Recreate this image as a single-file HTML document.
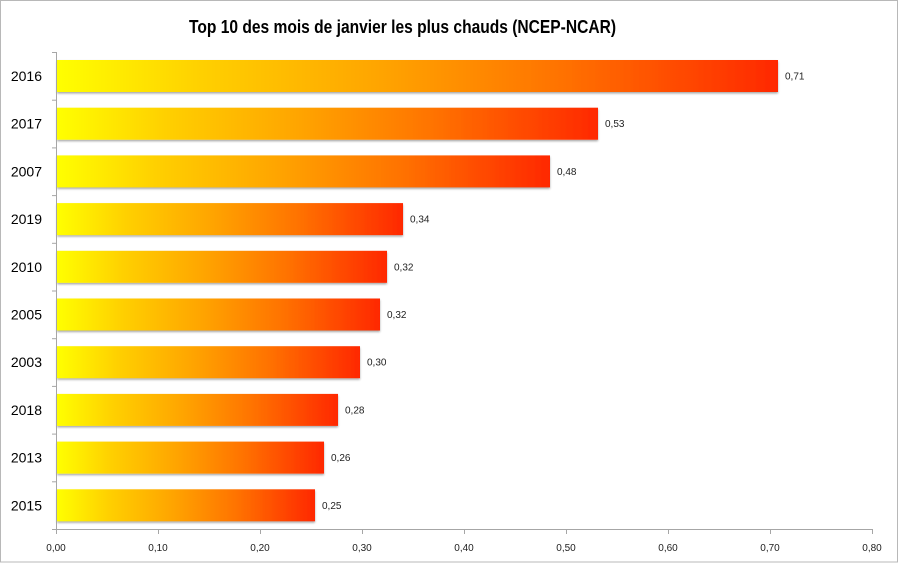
<!DOCTYPE html>
<html><head><meta charset="utf-8"><style>
html,body{margin:0;padding:0;background:#fff;}
svg{display:block;}
text{font-family:"Liberation Sans",Arial,sans-serif;}
</style></head><body>
<svg width="899" height="563" viewBox="0 0 899 563" xmlns="http://www.w3.org/2000/svg">
<defs>
<linearGradient id="g" x1="0" y1="0" x2="1" y2="0">
<stop offset="0" stop-color="#ffff00"/>
<stop offset="0.2" stop-color="#ffd000"/>
<stop offset="0.45" stop-color="#ffa400"/>
<stop offset="0.7" stop-color="#ff7200"/>
<stop offset="1" stop-color="#ff2800"/>
</linearGradient>
<filter id="sh" x="-5%" y="-20%" width="110%" height="150%">
<feGaussianBlur in="SourceAlpha" stdDeviation="1"/>
<feOffset dx="0" dy="1.5" result="b"/>
<feComponentTransfer><feFuncA type="linear" slope="0.35"/></feComponentTransfer>
<feMerge><feMergeNode/><feMergeNode in="SourceGraphic"/></feMerge>
</filter>
</defs>
<rect x="0.5" y="0.5" width="897" height="561.5" fill="#fff" stroke="#b8b8b8" stroke-width="1"/>
<text x="402.5" y="33" text-anchor="middle" font-size="18" font-weight="bold" fill="#000" textLength="427" lengthAdjust="spacingAndGlyphs">Top 10 des mois de janvier les plus chauds (NCEP-NCAR)</text>

<g filter="url(#sh)">
<rect x="57" y="60" width="721" height="32" fill="url(#g)"/>
<rect x="57" y="107.7" width="541" height="32" fill="url(#g)"/>
<rect x="57" y="155.4" width="493" height="32" fill="url(#g)"/>
<rect x="57" y="203.1" width="346" height="32" fill="url(#g)"/>
<rect x="57" y="250.8" width="330" height="32" fill="url(#g)"/>
<rect x="57" y="298.5" width="323" height="32" fill="url(#g)"/>
<rect x="57" y="346.2" width="303" height="32" fill="url(#g)"/>
<rect x="57" y="393.9" width="281" height="32" fill="url(#g)"/>
<rect x="57" y="441.6" width="267" height="32" fill="url(#g)"/>
<rect x="57" y="489.3" width="258" height="32" fill="url(#g)"/>
</g>

<g stroke="#a6a6a6" stroke-width="1" fill="none">
<line x1="56.5" y1="52" x2="56.5" y2="529.5"/>
<line x1="56" y1="529.5" x2="872.5" y2="529.5"/>
<line x1="52" y1="52.5" x2="56" y2="52.5"/>
<line x1="52" y1="100.2" x2="56" y2="100.2"/>
<line x1="52" y1="147.9" x2="56" y2="147.9"/>
<line x1="52" y1="195.6" x2="56" y2="195.6"/>
<line x1="52" y1="243.3" x2="56" y2="243.3"/>
<line x1="52" y1="291" x2="56" y2="291"/>
<line x1="52" y1="338.7" x2="56" y2="338.7"/>
<line x1="52" y1="386.4" x2="56" y2="386.4"/>
<line x1="52" y1="434.1" x2="56" y2="434.1"/>
<line x1="52" y1="481.8" x2="56" y2="481.8"/>
<line x1="52" y1="529.5" x2="56" y2="529.5"/>
<line x1="56.5" y1="529" x2="56.5" y2="534"/>
<line x1="158.5" y1="529" x2="158.5" y2="534"/>
<line x1="260.5" y1="529" x2="260.5" y2="534"/>
<line x1="362.5" y1="529" x2="362.5" y2="534"/>
<line x1="464.5" y1="529" x2="464.5" y2="534"/>
<line x1="566.5" y1="529" x2="566.5" y2="534"/>
<line x1="668.5" y1="529" x2="668.5" y2="534"/>
<line x1="770.5" y1="529" x2="770.5" y2="534"/>
<line x1="872.5" y1="529" x2="872.5" y2="534"/>
</g>

<g font-size="14" fill="#000" text-anchor="end">
<text x="42" y="81">2016</text>
<text x="42" y="128.7">2017</text>
<text x="42" y="176.4">2007</text>
<text x="42" y="224.1">2019</text>
<text x="42" y="271.8">2010</text>
<text x="42" y="319.5">2005</text>
<text x="42" y="367.2">2003</text>
<text x="42" y="414.9">2018</text>
<text x="42" y="462.6">2013</text>
<text x="42" y="510.3">2015</text>
</g>

<g font-size="10" fill="#222">
<text x="785" y="79.5">0,71</text>
<text x="605" y="127.2">0,53</text>
<text x="557" y="174.9">0,48</text>
<text x="410" y="222.6">0,34</text>
<text x="394" y="270.3">0,32</text>
<text x="387" y="318">0,32</text>
<text x="367" y="365.7">0,30</text>
<text x="345" y="413.4">0,28</text>
<text x="331" y="461.1">0,26</text>
<text x="322" y="508.8">0,25</text>
</g>

<g font-size="10" fill="#222" text-anchor="middle">
<text x="56" y="551">0,00</text>
<text x="158" y="551">0,10</text>
<text x="260" y="551">0,20</text>
<text x="362" y="551">0,30</text>
<text x="464" y="551">0,40</text>
<text x="566" y="551">0,50</text>
<text x="668" y="551">0,60</text>
<text x="770" y="551">0,70</text>
<text x="872" y="551">0,80</text>
</g>
</svg>
</body></html>
